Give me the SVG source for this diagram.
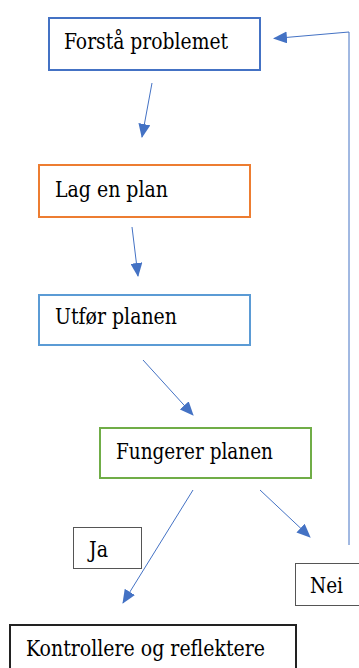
<svg xmlns="http://www.w3.org/2000/svg" width="359" height="668" viewBox="0 0 359 668">
  <style>
    .box { fill: #ffffff; stroke-width: 2; }
    .label { font-family: 'DejaVu Serif Condensed', 'DejaVu Serif', serif; font-stretch: condensed; font-size: 23px; fill: #000000; }
    .small { stroke: #555555; stroke-width: 1; fill: #ffffff; }
    .edge { stroke: #4472C4; stroke-width: 1; fill: none; marker-end: url(#head); }
  </style>
  <defs>
    <marker id="head" markerUnits="userSpaceOnUse" markerWidth="14" markerHeight="12" viewBox="0 0 14 12" refX="13" refY="6" orient="auto">
      <path d="M0,0 L14,6 L0,12 Z" fill="#4472C4"/>
    </marker>
  </defs>

  <rect width="359" height="668" fill="#ffffff"/>

  <!-- connectors -->
  <g id="connectors">
    <line class="edge" x1="152" y1="83" x2="142" y2="137"/>
    <line class="edge" x1="132" y1="227" x2="138" y2="276"/>
    <line class="edge" x1="143" y1="360" x2="193" y2="415"/>
    <line class="edge" x1="193" y1="490" x2="123" y2="603"/>
    <line class="edge" x1="260" y1="490" x2="310" y2="537"/>
    <polyline class="edge" points="349,545 349,32 274,38.5"/>
  </g>

  <g id="forsta">
    <rect class="box" x="49" y="18" width="211" height="52" stroke="#4472C4"/>
    <text class="label" x="64" y="49" textLength="164" lengthAdjust="spacingAndGlyphs">Forstå problemet</text>
  </g>

  <g id="lag-plan">
    <rect class="box" x="39" y="165" width="211" height="52" stroke="#ED7D31"/>
    <text class="label" x="55" y="197" textLength="113" lengthAdjust="spacingAndGlyphs">Lag en plan</text>
  </g>

  <g id="utfor">
    <rect class="box" x="39" y="295" width="211" height="50" stroke="#5B9BD5"/>
    <text class="label" x="55" y="324" textLength="122" lengthAdjust="spacingAndGlyphs">Utfør planen</text>
  </g>

  <g id="fungerer">
    <rect class="box" x="100" y="428" width="211" height="50" stroke="#70AD47"/>
    <text class="label" x="116" y="459" textLength="157" lengthAdjust="spacingAndGlyphs">Fungerer planen</text>
  </g>

  <g id="ja">
    <rect class="small" x="73.5" y="527.5" width="68" height="41"/>
    <text class="label" x="89" y="557" textLength="19" lengthAdjust="spacingAndGlyphs">Ja</text>
  </g>

  <g id="nei">
    <rect class="small" x="295.5" y="563.5" width="70" height="42"/>
    <text class="label" x="310" y="593" textLength="33" lengthAdjust="spacingAndGlyphs">Nei</text>
  </g>

  <g id="kontrollere">
    <rect x="10" y="625" width="286" height="60" fill="#ffffff" stroke="#222222" stroke-width="2"/>
    <text class="label" x="26" y="656" textLength="239" lengthAdjust="spacingAndGlyphs">Kontrollere og reflektere</text>
  </g>
</svg>
